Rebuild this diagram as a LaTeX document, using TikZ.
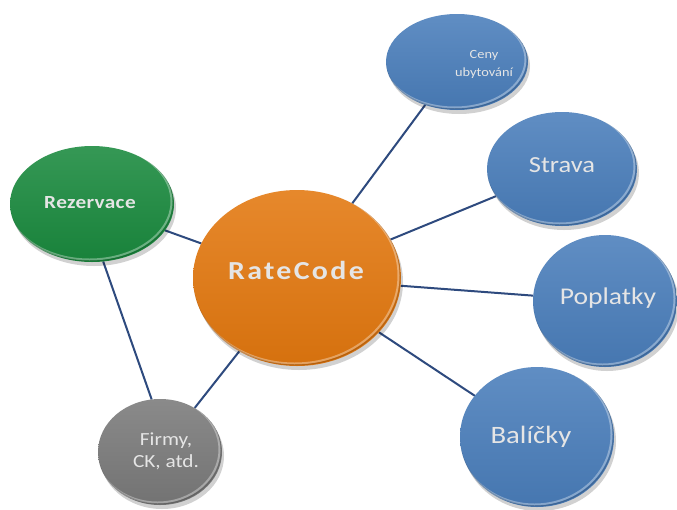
\documentclass[tikz,border=0pt]{standalone}
\usepackage{fontspec}
\setmainfont{Carlito}
\newfontfamily\dfont[FakeStretch=1.15]{Carlito}
\newfontfamily\dfontb[FakeStretch=1.15]{Carlito Bold}
\usetikzlibrary{shapes.geometric,backgrounds}
\definecolor{cOrange}{HTML}{E3780F}
\definecolor{cGreen}{HTML}{1A8A3E}
\definecolor{cBlue}{HTML}{4A7EBB}
\definecolor{cGray}{HTML}{7A7A7A}
\definecolor{cLine}{HTML}{2E4A7E}
\tikzset{
  disc/.style={ellipse, draw=none, inner sep=0pt, outer sep=0pt},
  link/.style={draw=cLine, line width=2pt},
  lbl/.style={text=white!90!black, align=center, inner sep=0pt, font=\dfont},
}
\newcommand\mydisc[6]{%
  \fill[black,opacity=.18] (#2+2,#3+4) ellipse ({#4} and {#5});
  \node[disc, top color=#6!88!white, bottom color=#6!94!black, minimum width={2*#4 pt}, minimum height={2*#5 pt}] (#1) at (#2,#3) {};
  \begin{scope}
    \clip (#2,#3) ellipse ({#4} and {#5});
    \draw[white,opacity=.35,line width=2pt] (#2-2.5,#3-2.5) ellipse ({#4} and {#5});
    \draw[black,opacity=.15,line width=1.2pt] (#2-0.8,#3-1.2) ellipse ({#4} and {#5});
  \end{scope}
}
\begin{document}
\begin{tikzpicture}[x=1pt,y=-1pt]
\useasboundingbox (0,0) rectangle (677,509);
\mydisc{rate}{297}{278}{104}{88}{cOrange}
\mydisc{rez}{92}{204}{82}{58}{cGreen}
\mydisc{firmy}{160}{452}{62}{53}{cGray}
\mydisc{ceny}{457}{62}{71}{48}{cBlue}
\mydisc{strava}{562}{169}{75}{57}{cBlue}
\mydisc{popl}{605}{301}{72}{66}{cBlue}
\mydisc{bal}{537}{437}{77}{70}{cBlue}
\node[lbl, font=\dfontb\fontsize{26}{30}\selectfont\addfontfeature{LetterSpace=9}] (rateT) at (296,270) {RateCode};
\node[lbl, font=\dfontb\fontsize{18.5}{22}\selectfont\addfontfeature{LetterSpace=2}] (rezT) at (90,203) {Rezervace};
\node[lbl, font=\dfont\fontsize{18.5}{22}\selectfont] (firmyT) at (166,451) {Firmy,\\CK, atd.};
\node[lbl, font=\dfont\fontsize{12.5}{18}\selectfont] (cenyT) at (484,64) {Ceny\\ubytování};
\node[lbl, font=\dfont\fontsize{23}{26}\selectfont] (stravaT) at (562,165) {Strava};
\node[lbl, font=\dfont\fontsize{24}{28}\selectfont] (poplT) at (608,298) {Poplatky};
\node[lbl, font=\dfont\fontsize{25}{30}\selectfont] (balT) at (531,437) {Balíčky};
\begin{scope}[on background layer]
\fill[white] (0,0) rectangle (677,509);
\draw[link] (rez) -- (rate);
\draw[link] (rez.-79) -- (firmy.99);
\draw[link] (firmy) -- (rate);
\draw[link] (ceny) -- (rate);
\draw[link] (strava) -- (rate);
\draw[link] (popl) -- (rate);
\draw[link] (bal) -- (rate);
\end{scope}
\end{tikzpicture}
\end{document}
